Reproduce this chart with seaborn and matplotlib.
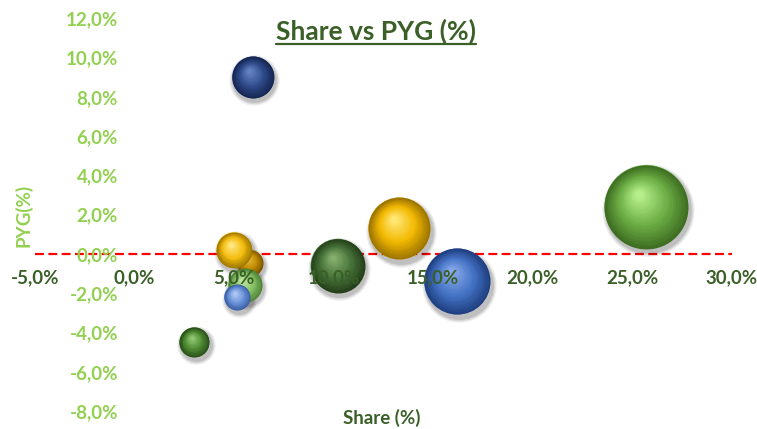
import numpy as np
import pandas as pd
import matplotlib
matplotlib.use("Agg")
import matplotlib.pyplot as plt
import matplotlib.transforms as mtransforms
from matplotlib.colors import to_rgb
from matplotlib.lines import Line2D
from matplotlib.ticker import FuncFormatter
import seaborn as sns

# bubbles, in the order Excel draws them
names = ["G1", "B1", "Y1", "B2", "G2", "O1", "G3", "Y2", "B3", "G4"]
share = [25.7, 5.95, 13.3, 16.2, 10.2, 5.8, 5.55, 5.0, 5.15, 3.0]
pyg = [2.4, 9.0, 1.3, -1.4, -0.6, -0.45, -1.6, 0.2, -2.2, -4.5]
bubble = [17.6, 4.4, 9.6, 10.9, 7.3, 1.7, 2.9, 3.2, 1.7, 2.25]

base_colors = ["#6DAE45", "#2E4A8A", "#F2B800", "#4472C4", "#46733A",
               "#C08A00", "#86C065", "#F5BE10", "#6C94DA", "#4F8B33"]
dark_colors = ["#3E6E22", "#152650", "#9C7400", "#1F3F80", "#25401A",
               "#7A5500", "#4F8236", "#A07800", "#3A5FA5", "#2A4F1A"]
light_colors = ["#B5EE8A", "#6482C2", "#FFE774", "#86A8EA", "#84AE6C",
                "#E6B838", "#BDE8A0", "#FFE680", "#AFC8F4", "#8FC870"]

x_ticks = [-5, 0, 5, 10, 15, 20, 25, 30]
y_ticks = [-8, -6, -4, -2, 0, 2, 4, 6, 8, 10, 12]

df = pd.DataFrame({"name": names, "share": share, "pyg": pyg, "bubble": bubble})

sns.set_theme(style="white")
plt.rcParams["font.family"] = ["Lato", "DejaVu Sans"]

DARK = "#3A5F27"
LIGHT = "#92D050"

fig = plt.figure(figsize=(7.57, 4.29), dpi=100)
ax = fig.add_axes([35 / 757, 18 / 429, 697 / 757, 392.5 / 429])

# bubble area proportional to value (radius in px squared / 100)
k = 207.36
bmin, bmax = min(bubble), max(bubble)
sns.scatterplot(data=df, x="share", y="pyg", hue="name", palette=base_colors,
                size="bubble", sizes=(k * bmin, k * bmax), size_norm=(bmin, bmax),
                legend=False, linewidth=0, alpha=1, ax=ax, zorder=0.95)


def mix(c1, c2, t):
    a, b = np.array(to_rgb(c1)), np.array(to_rgb(c2))
    return tuple(a + (b - a) * t)


# sphere shading: stacked circles shifting toward the upper left
n_layers = 24
for i in range(len(share)):
    s = k * bubble[i]
    r = np.sqrt(s) / 2
    for off, alpha in [(3.0, 0.07), (2.0, 0.09), (1.0, 0.11)]:
        tr = mtransforms.offset_copy(ax.transData, fig=fig, x=1.0, y=-2.2, units="points")
        ax.scatter(share[i], pyg[i], s=(2 * (r + off)) ** 2, color="black", alpha=alpha,
                   linewidths=0, transform=tr, zorder=0.9)
    for j in range(n_layers):
        t = j / (n_layers - 1)
        rr = r * (1 - 0.9 * t)
        if t < 0.45:
            c = mix(dark_colors[i], base_colors[i], t / 0.45)
        else:
            c = mix(base_colors[i], light_colors[i], (t - 0.45) / 0.55)
        tr = mtransforms.offset_copy(ax.transData, fig=fig, x=-0.18 * r * t,
                                     y=0.3 * r * t, units="points")
        ax.scatter(share[i], pyg[i], s=(2 * rr) ** 2, color=c, linewidths=0,
                   transform=tr, zorder=1 + i * 0.1 + j * 0.001)

ax.axhline(0, color="#FF0000", lw=1.6, ls=(0, (4, 2)), zorder=0.8)

ax.set_xlim(-5, 30)
ax.set_ylim(-8, 12)
ax.set_xticks(x_ticks)
ax.set_yticks(y_ticks)
fmt = FuncFormatter(lambda v, p: f"{v:.1f}%".replace(".", ","))
ax.xaxis.set_major_formatter(fmt)
ax.yaxis.set_major_formatter(fmt)

for sp in ax.spines.values():
    sp.set_visible(False)
ax.spines["bottom"].set_position(("data", 0))
ax.spines["left"].set_position(("data", 0))
ax.tick_params(axis="x", length=0, pad=11, labelsize=13.5, labelcolor=DARK)
ax.tick_params(axis="y", length=0, pad=12, labelsize=13.5, labelcolor=LIGHT)
for lab in ax.get_xticklabels() + ax.get_yticklabels():
    lab.set_fontweight("bold")
ax.xaxis.set_zorder(5)
ax.yaxis.set_zorder(5)

ax.set_xlabel("Share (%)", fontsize=13.5, fontweight="bold", color=DARK)
ax.xaxis.set_label_coords(0.498, 0.006)
ax.set_ylabel("PYG(%)", fontsize=13.5, fontweight="bold", color=LIGHT)
ax.yaxis.set_label_coords(-0.003, 0.497)

title = fig.text(375.5 / 757, 1 - 31 / 429, "Share vs PYG (%)", ha="center", va="center",
                 fontsize=19, fontweight="bold", color=DARK)
fig.canvas.draw()
bb = title.get_window_extent()
uy = 429 - 44
fig.add_artist(Line2D([bb.x0, bb.x1], [uy, uy], transform=None, color=DARK, lw=1.6))

fig.savefig("out.png", dpi=100)
